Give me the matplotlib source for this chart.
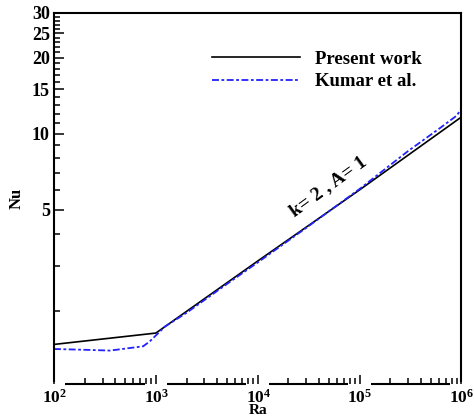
import numpy as np
import matplotlib
matplotlib.use("Agg")
import matplotlib.pyplot as plt
from matplotlib.patches import Rectangle
from matplotlib.transforms import blended_transform_factory

# =====================================================
# DATA
# =====================================================

ra_present = [1e2, 1e3, 1e4, 1e5, 1e6]
nu_present = [1.47, 1.63, 3.14, 6.0, 11.65]

ra_kumar = [100, 200, 355, 750, 870, 1230, 2000, 5000, 1e4, 3e4, 1e5, 3e5, 6e5, 9e5, 1e6]
nu_kumar = [1.41, 1.40, 1.39, 1.445, 1.51, 1.73, 1.96, 2.55, 3.10, 4.25, 6.05, 8.55, 10.45, 11.8, 12.6]

x_ticks = [1e2, 1e3, 1e4, 1e5, 1e6]
x_tick_labels = [r"$\mathbf{10^{2}}$", r"$\mathbf{10^{3}}$", r"$\mathbf{10^{4}}$",
                 r"$\mathbf{10^{5}}$", r"$\mathbf{10^{6}}$"]
y_major = [5, 10, 15, 20, 25, 30]
y_minor = [2, 3, 4, 6, 7, 8, 9] + list(range(11, 15)) + list(range(16, 20)) \
    + list(range(21, 25)) + list(range(26, 30))

legend_labels = ["Present work", "Kumar et al."]
note = "k= 2 , A= 1"

# =====================================================
# STYLE
# =====================================================

SERIF = "Liberation Serif"
BLUE = "#2222ff"

plt.rcParams.update({
    "font.family": SERIF,
    "font.weight": "bold",
    "mathtext.fontset": "custom",
    "mathtext.rm": "Liberation Serif",
    "mathtext.bf": "Liberation Serif:bold",
    "lines.scale_dashes": False,
})

fig = plt.figure(figsize=(4.74, 4.18), dpi=100)
ax = fig.add_axes([0.1139, 0.0825, 0.8597, 0.8864])

ax.plot(ra_present, nu_present, color="black", lw=1.2, label=legend_labels[0])
ax.plot(ra_kumar, nu_kumar, color=BLUE, lw=1.3,
        linestyle=(0, (5, 1.8, 2.0, 1.8)), label=legend_labels[1])

ax.set_xscale("log")
ax.set_yscale("log")
ax.set_xlim(1e2, 1e6)
ax.set_ylim(1.03, 30)

for s in ax.spines.values():
    s.set_linewidth(1.5)

# y ticks
ax.yaxis.set_major_locator(matplotlib.ticker.FixedLocator(y_major))
ax.yaxis.set_major_formatter(matplotlib.ticker.FixedFormatter([str(v) for v in y_major]))
ax.yaxis.set_minor_locator(matplotlib.ticker.FixedLocator(y_minor))
ax.yaxis.set_minor_formatter(matplotlib.ticker.NullFormatter())

# x ticks
ax.xaxis.set_major_locator(matplotlib.ticker.FixedLocator(x_ticks))
ax.xaxis.set_minor_locator(matplotlib.ticker.LogLocator(base=10, subs=np.arange(2, 10)))
ax.xaxis.set_minor_formatter(matplotlib.ticker.NullFormatter())

ax.tick_params(which="both", direction="in", top=False, right=False, width=1.1)
ax.tick_params(axis="y", which="major", length=7.2, pad=3, labelsize=13)
ax.tick_params(axis="y", which="minor", length=4.3)
ax.tick_params(axis="x", which="major", length=6.5, labelbottom=False)
ax.tick_params(axis="x", which="minor", length=4.3)
ax.xaxis.set_zorder(3)

# x tick labels with white gap over the axis line (tecplot look)
trans = blended_transform_factory(ax.transData, ax.transAxes)
for xv, lab in zip(x_ticks, x_tick_labels):
    ax.add_patch(Rectangle((xv / 1.29, -0.045), xv * 1.29 - xv / 1.29, 0.050,
                           transform=trans, facecolor="white", edgecolor="none",
                           zorder=2.7, clip_on=False))
    ax.text(xv * 1.01, -0.053, lab, transform=trans, ha="center", va="baseline",
            fontsize=12.5, zorder=4, clip_on=False)

ax.set_xlabel("Ra", fontsize=11, fontweight="bold")
ax.xaxis.set_label_coords(0.5, -0.056)
ax.xaxis.label.set_va("top")
ax.set_ylabel("Nu", fontsize=12, fontweight="bold")
ax.yaxis.set_label_coords(-0.072, 0.5)

ax.text(4.9e4, 6.2, note, rotation=36, ha="center", va="center",
        rotation_mode="anchor", fontsize=14, fontweight="bold")

ax.legend(loc="upper left", bbox_to_anchor=(0.388, 0.899), frameon=False,
          handlelength=4.7, handletextpad=0.8, labelspacing=0.3, borderpad=0,
          borderaxespad=0, prop={"family": SERIF, "weight": "bold", "size": 13.5})

fig.savefig("out.png", dpi=100)
